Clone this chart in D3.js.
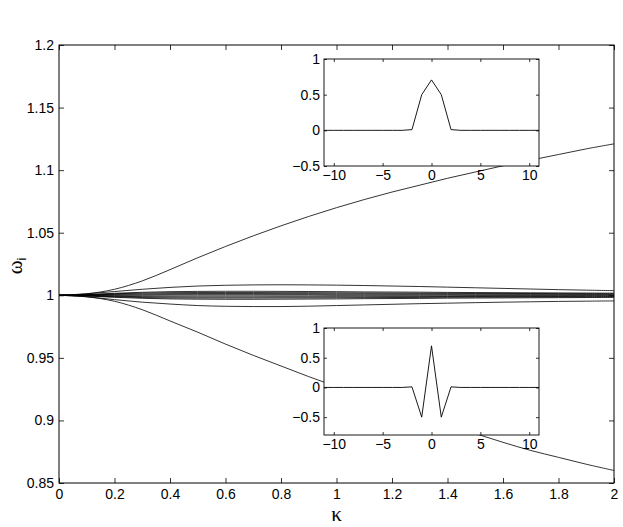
<!DOCTYPE html>
<html>
<head>
<meta charset="utf-8">
<script src="https://cdn.jsdelivr.net/npm/d3@7"></script>
<style>
  html, body { margin: 0; padding: 0; background: #fff; }
  svg { display: block; }
  text { font-family: "Liberation Sans", Arial, Helvetica, sans-serif; fill: #000; }
</style>
</head>
<body>
<svg id="chart" width="623" height="527"></svg>
<script>
// ---------- DATA ----------
const kappa = [0, 0.1, 0.2, 0.3, 0.4, 0.5, 0.6, 0.7, 0.8, 0.9, 1.0, 1.1, 1.2, 1.3, 1.4, 1.5, 1.6, 1.7, 1.8, 1.9, 2.0];

const omegaUpper = [1, 1.0012, 1.0048, 1.0115, 1.0205, 1.030, 1.039, 1.0475, 1.0555, 1.063, 1.070, 1.0765, 1.0825, 1.088, 1.0935, 1.0985, 1.1035, 1.108, 1.1125, 1.117, 1.121];
const omegaLower = [1, 0.9988, 0.9952, 0.9885, 0.9795, 0.9705, 0.961, 0.952, 0.9435, 0.935, 0.927, 0.9195, 0.912, 0.9045, 0.897, 0.8895, 0.8825, 0.876, 0.8705, 0.865, 0.860];
const omegaMid1 = [1, 1.0012, 1.003, 1.0048, 1.0063, 1.0074, 1.008, 1.0083, 1.0084, 1.0083, 1.0081, 1.0078, 1.0074, 1.007, 1.0065, 1.006, 1.0055, 1.005, 1.0045, 1.0041, 1.0037];
const omegaMid2 = [1, 0.9988, 0.9965, 0.9945, 0.993, 0.9918, 0.9912, 0.991, 0.991, 0.9913, 0.9918, 0.9923, 0.9928, 0.9933, 0.9937, 0.9941, 0.9945, 0.9948, 0.9951, 0.9953, 0.9955];
const omegaMid3 = [1, 1.0006, 1.0016, 1.0024, 1.0029, 1.0031, 1.0032, 1.0032, 1.0031, 1.003, 1.0029, 1.0027, 1.0026, 1.0025, 1.0023, 1.0022, 1.0021, 1.002, 1.0019, 1.0018, 1.0017];
const omegaMid4 = [1, 0.9994, 0.9984, 0.9976, 0.9971, 0.9969, 0.9968, 0.9968, 0.9969, 0.997, 0.9971, 0.9973, 0.9974, 0.9975, 0.9977, 0.9978, 0.9979, 0.998, 0.9981, 0.9982, 0.9983];
const omegaMid5 = [1, 1.0003, 1.0008, 1.0011, 1.0013, 1.0014, 1.0014, 1.0014, 1.0013, 1.0013, 1.0012, 1.0012, 1.0011, 1.0011, 1.001, 1.001, 1.0009, 1.0009, 1.0009, 1.0008, 1.0008];
const omegaMid6 = [1, 0.9997, 0.9992, 0.9989, 0.9987, 0.9986, 0.9986, 0.9986, 0.9987, 0.9987, 0.9988, 0.9988, 0.9989, 0.9989, 0.999, 0.999, 0.9991, 0.9991, 0.9991, 0.9992, 0.9992];
const omegaMid7 = [1, 1.0001, 1.0003, 1.0004, 1.0005, 1.0005, 1.0005, 1.0005, 1.0005, 1.0005, 1.0004, 1.0004, 1.0004, 1.0004, 1.0004, 1.0003, 1.0003, 1.0003, 1.0003, 1.0003, 1.0003];
const omegaMid8 = [1, 0.9999, 0.9997, 0.9996, 0.9995, 0.9995, 0.9995, 0.9995, 0.9995, 0.9995, 0.9996, 0.9996, 0.9996, 0.9996, 0.9996, 0.9997, 0.9997, 0.9997, 0.9997, 0.9997, 0.9997];
const omegaMid9 = [1, 1.0004, 1.0012, 1.0018, 1.0021, 1.0022, 1.0022, 1.0022, 1.0021, 1.0021, 1.002, 1.0019, 1.0018, 1.0017, 1.0016, 1.0015, 1.0015, 1.0014, 1.0013, 1.0013, 1.0012];
const omegaMid10 = [1, 0.9996, 0.9988, 0.9982, 0.9979, 0.9978, 0.9978, 0.9978, 0.9979, 0.9979, 0.998, 0.9981, 0.9982, 0.9983, 0.9984, 0.9985, 0.9985, 0.9986, 0.9987, 0.9987, 0.9988];

const xTicks = [0, 0.2, 0.4, 0.6, 0.8, 1, 1.2, 1.4, 1.6, 1.8, 2];
const yTicks = [0.85, 0.9, 0.95, 1, 1.05, 1.1, 1.15, 1.2];

// insets: lattice sites and mode amplitudes
const sites = [-11, -10, -9, -8, -7, -6, -5, -4, -3, -2, -1, 0, 1, 2, 3, 4, 5, 6, 7, 8, 9, 10, 11];
const modeTop = [0, 0, 0, 0, 0, 0, 0, 0, 0, 0.01, 0.5, 0.707, 0.5, 0.01, 0, 0, 0, 0, 0, 0, 0, 0, 0];
const modeBottom = [0, 0, 0, 0, 0, 0, 0, 0, 0, 0.01, -0.5, 0.7, -0.5, 0.01, 0, 0, 0, 0, 0, 0, 0, 0, 0];
const insetXTicks = [-10, -5, 0, 5, 10];
const insetYTicks = [-0.5, 0, 0.5, 1];

// ---------- CHART ----------
const svg = d3.select("#chart");
const L = 59, R = 614, T = 45, B = 483;
const x = d3.scaleLinear().domain([0, 2]).range([L, R]);
const y = d3.scaleLinear().domain([0.85, 1.2]).range([B, T]);

svg.append("clipPath").attr("id", "mainclip").append("rect")
  .attr("x", L).attr("y", T).attr("width", R - L).attr("height", B - T);

const series = [omegaUpper, omegaLower, omegaMid1, omegaMid2, omegaMid3, omegaMid4, omegaMid5, omegaMid6, omegaMid7, omegaMid8, omegaMid9, omegaMid10];
const line = d3.line().x(d => x(d[0])).y(d => y(d[1])).curve(d3.curveCatmullRom);
const gLines = svg.append("g").attr("clip-path", "url(#mainclip)");
series.forEach(s => {
  gLines.append("path")
    .datum(kappa.map((k, i) => [k, s[i]]))
    .attr("d", line)
    .attr("fill", "none")
    .attr("stroke", "#000")
    .attr("stroke-width", 0.8);
});

function styleAxis(g, fs) {
  g.select(".domain").remove();
  g.selectAll(".tick line").attr("stroke", "#000").attr("stroke-width", 0.8);
  g.selectAll("text").style("font-size", fs + "px").attr("fill", "#000");
}
const fmt = d => String(d).replace("-", "\u2212");

const gx = svg.append("g").attr("transform", `translate(0,${B})`)
  .call(d3.axisBottom(x).tickValues(xTicks).tickSize(-5).tickPadding(6).tickFormat(fmt));
styleAxis(gx, 14);
const gxt = svg.append("g").attr("transform", `translate(0,${T})`)
  .call(d3.axisTop(x).tickValues(xTicks).tickSize(-5).tickFormat(""));
styleAxis(gxt, 14);
const gy = svg.append("g").attr("transform", `translate(${L},0)`)
  .call(d3.axisLeft(y).tickValues(yTicks).tickSize(-5).tickPadding(5).tickFormat(fmt));
styleAxis(gy, 14);
const gyr = svg.append("g").attr("transform", `translate(${R},0)`)
  .call(d3.axisRight(y).tickValues(yTicks).tickSize(-5).tickFormat(""));
styleAxis(gyr, 14);

svg.append("rect").attr("x", L).attr("y", T).attr("width", R - L).attr("height", B - T)
  .attr("fill", "none").attr("stroke", "#000").attr("stroke-width", 1);

// axis labels
svg.append("text").attr("x", (L + R) / 2).attr("y", 521).attr("text-anchor", "middle")
  .style("font-family", "'Liberation Serif', 'DejaVu Serif', serif").style("font-size", "21px").text("κ");
const yl = svg.append("text").attr("transform", "translate(22,266) rotate(-90)").attr("text-anchor", "middle")
  .style("font-family", "'Liberation Serif', 'DejaVu Serif', serif").style("font-size", "21px");
yl.append("tspan").text("ω");
yl.append("tspan").attr("dy", 4).style("font-size", "13px").style("font-family", "'Liberation Sans', Arial, sans-serif").text("i");

// ---------- INSETS ----------
function inset(id, top, bottom, yMin, data) {
  const il = 324, ir = 539;
  const ix = d3.scaleLinear().domain([-11, 11]).range([il, ir]);
  const iy = d3.scaleLinear().domain([yMin, 1]).range([bottom, top]);
  const g = svg.append("g");
  g.append("rect").attr("x", il).attr("y", top).attr("width", ir - il).attr("height", bottom - top).attr("fill", "#fff");
  g.append("clipPath").attr("id", id).append("rect").attr("x", il).attr("y", top).attr("width", ir - il).attr("height", bottom - top);
  g.append("path")
    .datum(sites.map((s, i) => [s, data[i]]))
    .attr("clip-path", `url(#${id})`)
    .attr("d", d3.line().x(d => ix(d[0])).y(d => iy(d[1])))
    .attr("fill", "none").attr("stroke", "#000").attr("stroke-width", 0.9);
  const a1 = g.append("g").attr("transform", `translate(0,${bottom})`)
    .call(d3.axisBottom(ix).tickValues(insetXTicks).tickSize(-3).tickPadding(4).tickFormat(fmt));
  styleAxis(a1, 14);
  const a2 = g.append("g").attr("transform", `translate(0,${top})`)
    .call(d3.axisTop(ix).tickValues(insetXTicks).tickSize(-3).tickFormat(""));
  styleAxis(a2, 14);
  const a3 = g.append("g").attr("transform", `translate(${il},0)`)
    .call(d3.axisLeft(iy).tickValues(insetYTicks).tickSize(-3).tickPadding(4).tickFormat(fmt));
  styleAxis(a3, 14);
  const a4 = g.append("g").attr("transform", `translate(${ir},0)`)
    .call(d3.axisRight(iy).tickValues(insetYTicks).tickSize(-3).tickFormat(""));
  styleAxis(a4, 14);
  g.append("rect").attr("x", il).attr("y", top).attr("width", ir - il).attr("height", bottom - top)
    .attr("fill", "none").attr("stroke", "#000").attr("stroke-width", 0.9);
}
inset("clipTop", 59, 166, -0.5, modeTop);
inset("clipBottom", 328, 435, -0.8, modeBottom);
</script>
</body>
</html>
